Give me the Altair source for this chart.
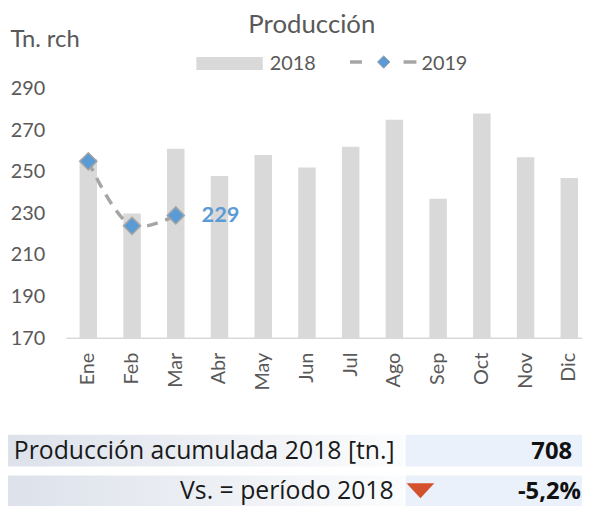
import altair as alt
import pandas as pd

months = ["Ene", "Feb", "Mar", "Abr", "May", "Jun", "Jul", "Ago", "Sep", "Oct", "Nov", "Dic"]
prod_2018 = [256, 230, 261, 248, 258, 252, 262, 275, 237, 278, 257, 247]
prod_2019 = [255, 224, 229]
y_ticks = [170, 190, 210, 230, 250, 270, 290]

title_text = "Producción"
y_title = "Tn. rch"
legend_labels = ["2018", "2019"]
row_labels = ["Producción acumulada 2018 [tn.]", "Vs. = período 2018"]
row_values = ["708", "-5,2%"]

FONT = "Lato"
TFONT = "Open Sans"
GRAY = "#595959"
BAR = "#d9d9d9"
LINE = "#a5a5a5"
BLUE = "#5b9bd5"
RED = "#d4512d"

# plot area starts 9.2 px to the right of the axis line start (offset OX)
OX = -9.2
W = 510.8
H = 252

df18 = pd.DataFrame({"mes": months, "v": prod_2018})
df19 = pd.DataFrame({"mes": months[:len(prod_2019)], "v": prod_2019})
dflast = df19.tail(1)
one = pd.DataFrame({"a": [0]})

x_enc = alt.X(
    "mes:N", sort=months,
    scale=alt.Scale(paddingInner=0.6, paddingOuter=0.0907),
    axis=alt.Axis(title=None, labelAngle=-90, labelFont=FONT, labelFontSize=20,
                  labelColor=GRAY, labelPadding=14, ticks=False, domain=False),
)
y_enc = alt.Y(
    "v:Q",
    scale=alt.Scale(domain=[170, 290], nice=False, zero=False),
    axis=alt.Axis(values=y_ticks, grid=False, domain=False, ticks=False,
                  labelFont=FONT, labelFontSize=20, labelColor=GRAY, labelPadding=22 - OX,
                  title=y_title, titleAngle=0, titleAlign="left", titleBaseline="alphabetic",
                  titleX=-57 + OX, titleY=-42, titleFont=FONT, titleFontSize=24,
                  titleFontWeight="normal", titleColor=GRAY),
)

axis_line = alt.Chart(one).mark_rule(color=BAR, strokeWidth=1.5).encode(
    x=alt.value(OX), x2=alt.value(W), y=alt.value(H))
bars = alt.Chart(df18).mark_bar(color=BAR).encode(x=x_enc, y=y_enc, y2=alt.datum(170))
line = alt.Chart(df19).mark_line(color=LINE, strokeWidth=3.5, strokeDash=[11, 8],
                                 interpolate="catmull-rom").encode(x=x_enc, y=y_enc)
pts = alt.Chart(df19).mark_point(shape="diamond", filled=True, fill=BLUE, stroke=LINE,
                                 strokeWidth=1.5, size=300, opacity=1).encode(x=x_enc, y=y_enc)
lab = alt.Chart(dflast).mark_text(align="left", baseline="middle", dx=26, font=FONT,
                                  fontSize=22, fontWeight="bold", color=BLUE).encode(
    x=x_enc, y=y_enc, text=alt.Text("v:Q"))

def txt(text, x, y, size=20, align="left", weight="normal", color=GRAY,
        baseline="alphabetic", font=FONT):
    return alt.Chart(one).mark_text(text=text, align=align, baseline=baseline, font=font,
                                    fontSize=size, fontWeight=weight, color=color).encode(
        x=alt.value(x + OX), y=alt.value(y))

title = txt(title_text, 247.5, -55.7, size=26, align="center")

def rect(x1, x2, y1, y2, fill):
    return alt.Chart(one).mark_rect(fill=fill).encode(
        x=alt.value(x1 + OX), x2=alt.value(x2 + OX), y=alt.value(y1), y2=alt.value(y2))

def rule(x1, x2, y):
    return alt.Chart(one).mark_rule(color=LINE, strokeWidth=3.5).encode(
        x=alt.value(x1 + OX), x2=alt.value(x2 + OX), y=alt.value(y))

leg_rect = rect(131, 198, -31.7, -18.7, BAR)
leg_t1 = txt(legend_labels[0], 205, -18.7)
leg_d1 = rule(286, 298, -26.7)
leg_d2 = rule(340, 353, -26.7)
leg_pt = alt.Chart(one).mark_point(shape="diamond", filled=True, fill=BLUE, stroke=LINE,
                                   strokeWidth=1, size=160, opacity=1).encode(
    x=alt.value(320 + OX), y=alt.value(-26.7))
leg_t2 = txt(legend_labels[1], 358, -18.7)

grad = alt.Gradient(gradient="linear", x1=0, x2=1, y1=0, y2=0,
                    stops=[alt.GradientStop(color="#dce1ea", offset=0),
                           alt.GradientStop(color="#fbfcfd", offset=1)])

c1 = rect(-67, 340, 349.3, 381.3, grad)
c2 = rect(342, 520, 349.3, 381.3, "#eaf1fa")
c3 = rect(-67, 340, 390.3, 425, grad)
c4 = rect(342, 520, 390.3, 425, "#eaf1fa")

t1 = txt(row_labels[0], 331, 373.3, size=25, align="right", color="#1a1a1a", font=TFONT)
v1 = txt(row_values[0], 510, 373.3, size=24, align="right", weight="bold", color="#111111", font=TFONT)
t2 = txt(row_labels[1], 330, 414.3, size=25, align="right", color="#1a1a1a", font=TFONT)
v2 = txt(row_values[1], 519, 414.3, size=24, align="right", weight="bold", color="#111111", font=TFONT)
tri = alt.Chart(one).mark_point(shape="M-1,-0.54L1,-0.54L0,0.54Z", filled=True, fill=RED,
                                size=784, opacity=1, strokeWidth=0).encode(
    x=alt.value(357 + OX), y=alt.value(405.8))

chart = alt.layer(
    c1, c2, c3, c4, t1, v1, t2, v2, tri, axis_line,
    bars, line, pts, lab, title, leg_rect, leg_t1, leg_d1, leg_d2, leg_pt, leg_t2,
).properties(
    width=W, height=H,
    padding={"left": 59 - OX, "top": 79, "right": 0, "bottom": 167},
    autosize=alt.AutoSizeParams(type="none"),
).configure_view(stroke=None)

chart.save("out.html", embed_options={"renderer": "svg", "actions": False})
